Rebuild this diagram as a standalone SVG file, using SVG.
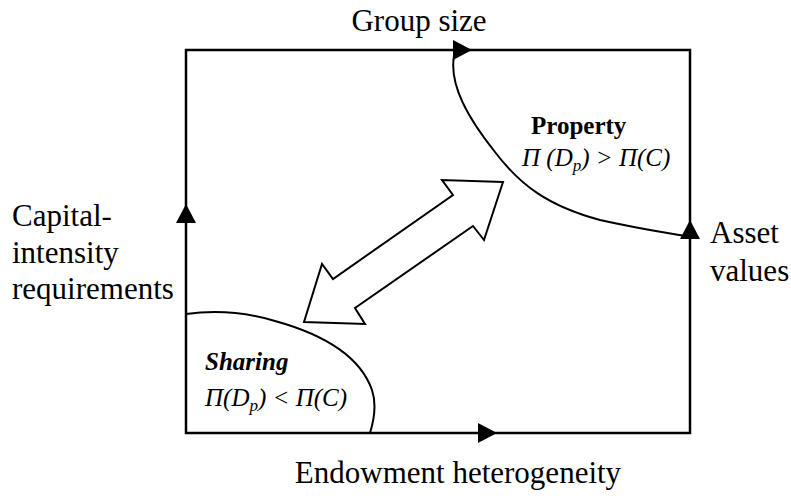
<svg xmlns="http://www.w3.org/2000/svg" width="791" height="500" viewBox="0 0 791 500">
<defs>
<polygon id="headR" points="-19,-10 0,0 -19,10" fill="#000"/>
</defs>
<rect width="791" height="500" fill="#fff"/>
<g id="frame">
<rect x="186" y="50" width="504" height="383" fill="none" stroke="#000" stroke-width="2.5"/>
</g>
<g id="connectors" fill="none" stroke="#000" stroke-width="2">
<path d="M454,56 C449,85 468,118 495,152 C520,185 548,206 600,220 C640,229 668,233 690,237"/>
<path d="M186,314 C215,310 245,312 275,321 C322,334 360,356 372,390 C377,405 374,420 370,433"/>
<use href="#headR" x="472" y="50" stroke="none"/>
<use href="#headR" x="497" y="433" stroke="none"/>
<use href="#headR" transform="translate(186,204) rotate(-90)" stroke="none"/>
<use href="#headR" transform="translate(690,220) rotate(-90)" stroke="none"/>
<polygon fill="#fff" stroke="#000" stroke-width="2" points="503,182 442,180 453,195 333,279 322,264 304,322 365,324 355,308 473,226 484,240"/>
</g>
<g id="group-size"><text font-family="Liberation Serif" font-size="31" x="419" y="31" text-anchor="middle">Group size</text></g>
<g id="endowment"><text font-family="Liberation Serif" font-size="31" x="458" y="483" text-anchor="middle">Endowment heterogeneity</text></g>
<g id="capital">
<text font-family="Liberation Serif" font-size="31" x="12" y="226">Capital-</text>
<text font-family="Liberation Serif" font-size="31" x="12" y="263">intensity</text>
<text font-family="Liberation Serif" font-size="31" x="12" y="299">requirements</text>
</g>
<g id="asset">
<text font-family="Liberation Serif" font-size="31" x="710" y="243">Asset</text>
<text font-family="Liberation Serif" font-size="31" x="710" y="281">values</text>
</g>
<g id="property">
<text font-family="Liberation Serif" font-size="25" x="531" y="134" font-weight="bold">Property</text>
<text font-family="Liberation Serif" font-size="25" x="522" y="166" font-style="italic">&#928; (D<tspan font-size="17" dy="5">p</tspan><tspan dy="-5">) &gt; &#928;(C)</tspan></text>
</g>
<g id="sharing">
<text font-family="Liberation Serif" font-size="25" x="205" y="370" font-weight="bold" font-style="italic">Sharing</text>
<text font-family="Liberation Serif" font-size="25" x="205" y="406" font-style="italic">&#928;(D<tspan font-size="17" dy="5">p</tspan><tspan dy="-5">) &lt; &#928;(C)</tspan></text>
</g>
</svg>
